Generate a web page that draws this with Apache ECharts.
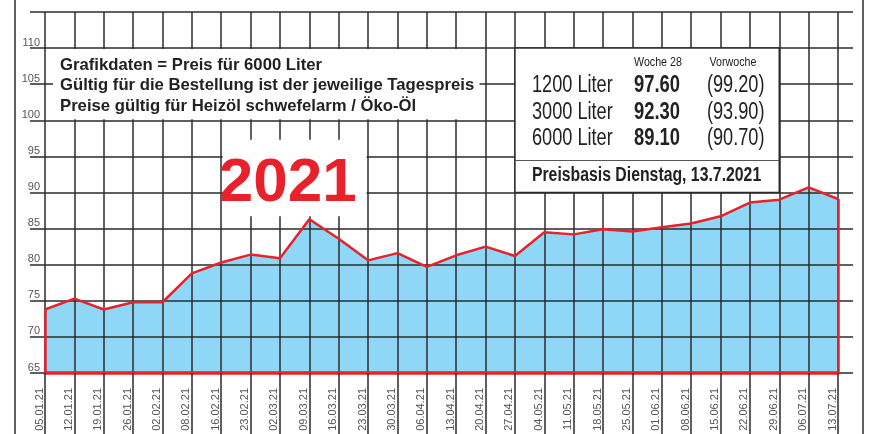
<!DOCTYPE html>
<html>
<head>
<meta charset="utf-8">
<script src="https://cdn.jsdelivr.net/npm/echarts@6/dist/echarts.min.js"></script>
<style>
  html, body { margin: 0; padding: 0; background: #fff; }
  #chart { width: 870px; height: 434px; }
</style>
</head>
<body>
<div id="chart"></div>
<script>
// Heizölpreise 2021, Preis für 6000 Liter
const dates = ['05.01.21', '12.01.21', '19.01.21', '26.01.21', '02.02.21', '08.02.21', '16.02.21',
  '23.02.21', '02.03.21', '09.03.21', '16.03.21', '23.03.21', '30.03.21', '06.04.21', '13.04.21',
  '20.04.21', '27.04.21', '04.05.21', '11.05.21', '18.05.21', '25.05.21', '01.06.21', '08.06.21',
  '15.06.21', '22.06.21', '29.06.21', '06.07.21', '13.07.21']
const prices = [73.8, 75.3, 73.8, 74.8, 74.8, 78.8, 80.3, 81.4, 80.9, 86.3, 83.6, 80.6, 81.6, 79.7,
  81.3, 82.5, 81.2, 84.5, 84.2, 84.9, 84.6, 85.2, 85.7, 86.7, 88.6, 89.0, 90.7, 89.1]

// Tabelle oben rechts
const mengen = ['1200 Liter', '3000 Liter', '6000 Liter']
const woche28 = ['97.60', '92.30', '89.10']
const vorwoche = ['(99.20)', '(93.90)', '(90.70)']

const infoZeilen = [
  'Grafikdaten = Preis für 6000 Liter',
  'Gültig für die Bestellung ist der jeweilige Tagespreis',
  'Preise gültig für Heizöl schwefelarm / Öko-Öl'
]

const yMin = 65, yMax = 115, yStep = 5
const sans = '"Liberation Sans", Arial, sans-serif'
const gridColor = '#2b2b2b'
const rot = '#e8212b'
const last = dates.length - 1

var chart = echarts.init(document.getElementById('chart'), null, { renderer: 'canvas' })

var option = {
  animation: false,
  grid: [
    { left: 45, right: 32, top: 12, bottom: 61, outerBoundsMode: 'none' },   // Daten
    { left: 30, right: 17, top: 12, bottom: 61, outerBoundsMode: 'none' }    // waagerechte Linien
  ],
  xAxis: [{
    type: 'category',
    gridIndex: 0,
    data: dates,
    boundaryGap: false,
    z: 3,
    axisLine: { lineStyle: { color: rot, width: 3.5 } },
    axisTick: { show: true, interval: 0, length: 61, lineStyle: { color: gridColor, width: 1.5 } },
    axisLabel: {
      interval: 0,
      rotate: 90,
      margin: 15,
      fontSize: 11,
      fontFamily: sans,
      color: '#555',
      verticalAlign: 'bottom'
    },
    splitLine: { show: true, interval: 0, lineStyle: { color: gridColor, width: 1.5 } }
  }, {
    type: 'value',
    gridIndex: 1,
    show: false
  }],
  yAxis: [{
    type: 'value',
    gridIndex: 0,
    min: yMin,
    max: yMax,
    interval: yStep,
    axisLine: { show: false },
    axisTick: { show: false },
    axisLabel: { show: false },
    splitLine: { show: false }
  }, {
    type: 'value',
    gridIndex: 1,
    min: yMin,
    max: yMax,
    interval: yStep,
    z: 3,
    axisLine: { show: false },
    axisTick: { show: false },
    axisLabel: {
      margin: -10,
      verticalAlign: 'bottom',
      fontSize: 11,
      fontFamily: sans,
      color: '#555',
      formatter: (v) => v >= yMax ? '' : String(v)
    },
    splitLine: { lineStyle: { color: gridColor, width: 1.5 } }
  }],
  series: [{
    // Fläche unter den Gitterlinien
    type: 'line',
    data: prices,
    z: 1,
    symbol: 'none',
    lineStyle: { width: 0 },
    areaStyle: { color: '#8ed7f6', opacity: 1 }
  }, {
    // rote Kurve
    type: 'line',
    data: prices,
    z: 5,
    symbol: 'none',
    lineStyle: { color: rot, width: 2.5 },
    markLine: {
      silent: true,
      symbol: 'none',
      label: { show: false },
      lineStyle: { color: rot, width: 2.5, type: 'solid' },
      data: [
        [{ coord: [dates[0], yMin] }, { coord: [dates[0], prices[0]] }],
        [{ coord: [dates[last], yMin] }, { coord: [dates[last], prices[last]] }]
      ]
    }
  }]
}

chart.setOption(option)

// Kästen und Texte, an den Gitterlinien ausgerichtet
var px = (i, v) => chart.convertToPixel({ xAxisIndex: 0, yAxisIndex: 0 }, [i, v])

// schmale Schrift nachgebildet: Liberation Sans, horizontal gestaucht
function schmal(x, y, text, size, bold, sx, align) {
  return {
    type: 'text', z: 11, x: x, y: y, scaleX: sx,
    style: { text: text, font: (bold ? 'bold ' : '') + size + 'px ' + sans, fill: '#222', align: align || 'left', verticalAlign: 'middle' }
  }
}

var g = []
// Rahmen links / rechts
g.push({ type: 'line', z: 10, shape: { x1: 15, y1: 0, x2: 15, y2: 434 }, style: { stroke: gridColor, lineWidth: 1.5 } })
g.push({ type: 'line', z: 10, shape: { x1: 863, y1: 0, x2: 863, y2: 434 }, style: { stroke: gridColor, lineWidth: 1.5 } })

// Infotext oben links
var a = px(0, 110), b = px(15, 100)
g.push({ type: 'rect', z: 10, shape: { x: a[0] + 8, y: a[1] + 1, width: b[0] - 6 - (a[0] + 8), height: b[1] - a[1] - 2 }, style: { fill: '#fff' } })
infoZeilen.forEach((t, i) => {
  g.push({
    type: 'text', z: 11, x: a[0] + 15, y: a[1] + 17 + i * 20.5,
    style: { text: t, font: 'bold 16.7px ' + sans, fill: '#222', verticalAlign: 'middle' }
  })
})

// 2021
var c = px(6, 97.3), d = px(11, 86.7)
g.push({ type: 'rect', z: 10, shape: { x: c[0] + 1.5, y: c[1], width: d[0] - c[0] - 3, height: d[1] - c[1] }, style: { fill: '#fff' } })
g.push({
  type: 'text', z: 11, x: (c[0] + d[0]) / 2 - 7, y: (c[1] + d[1]) / 2 + 6,
  style: { text: '2021', font: 'bold 62px ' + sans, fill: rot, align: 'center', verticalAlign: 'middle' }
})

// Preistabelle
var e = px(16, 110), f = px(25, 90)
g.push({ type: 'rect', z: 10, shape: { x: e[0], y: e[1], width: f[0] - e[0], height: f[1] - e[1] }, style: { fill: '#fff', stroke: gridColor, lineWidth: 1.5 } })
g.push({ type: 'line', z: 11, shape: { x1: e[0], y1: f[1] - 32, x2: f[0], y2: f[1] - 32 }, style: { stroke: '#555', lineWidth: 1 } })
g.push(schmal(e[0] + 143, e[1] + 14, 'Woche 28', 13, false, 0.82, 'center'))
g.push(schmal(e[0] + 218, e[1] + 14, 'Vorwoche', 13, false, 0.82, 'center'))
mengen.forEach((m, i) => {
  var y = e[1] + 38 + i * 26.5
  g.push(schmal(e[0] + 17, y, m, 23, false, 0.79))
  g.push(schmal(e[0] + 119, y, woche28[i], 23, true, 0.8))
  g.push(schmal(e[0] + 192, y, vorwoche[i], 23, false, 0.79))
})
g.push(schmal(e[0] + 17, f[1] - 17, 'Preisbasis Dienstag, 13.7.2021', 20, true, 0.79))

chart.setOption({ graphic: g })
</script>
</body>
</html>
